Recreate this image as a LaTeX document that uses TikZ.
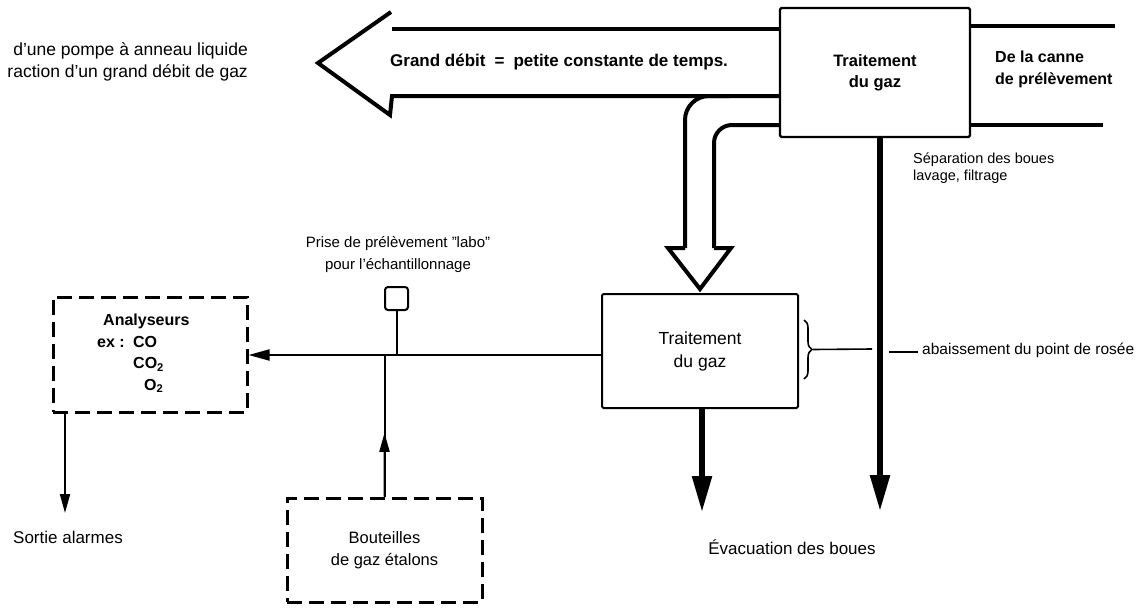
\documentclass[tikz,border=0pt]{standalone}
\usepackage{fontspec}
\setmainfont{Liberation Sans}
\usetikzlibrary{arrows.meta,decorations.pathreplacing,calc}
\newcommand{\fsz}[2]{\fontsize{#1}{#2}\selectfont}
\begin{document}
\begin{tikzpicture}[x=1pt,y=-1pt,
  box/.style={draw,line width=2.4pt,rounded corners=1.5pt,inner sep=0pt,align=center},
  dbox/.style={draw,line width=3pt,dash pattern=on 15pt off 7pt,inner sep=0pt},
  pipe/.style={line width=4pt},
  heavy/.style={line width=5.5pt,-{Triangle[width=19pt,length=36pt]}},
  fine/.style={line width=2pt},
  finearrow/.style={line width=2pt,-{Triangle[width=10pt,length=19pt]}},
  lbl/.style={inner sep=0pt}
]
\fill[white] (0,0) rectangle (1140,613);
\useasboundingbox (0,0) rectangle (1140,613);

% boxes
\node[box,minimum width=190pt,minimum height=129pt,font=\fsz{16.5}{21}\bfseries] (tb) at (875,72.5) {Traitement\\du gaz};
\node[box,line width=2pt,minimum width=196pt,minimum height=114pt,font=\fsz{17.5}{23}] (bb) at (700,351) {Traitement\\du gaz};
\node[dbox,minimum width=194pt,minimum height=115pt] (an) at (150,354.5) {};
\node[dbox,minimum width=195pt,minimum height=104pt,align=center,font=\fsz{16.5}{22}] (bo) at (384.5,550) {Bouteilles\\de gaz étalons};
\node[draw,line width=2pt,rounded corners=3pt,minimum width=23pt,minimum height=23pt,inner sep=0pt] (sq) at (396.5,298.5) {};

% analyser text
\node[lbl,anchor=north west,align=left,font=\fsz{16}{21.5}\bfseries] (ant) at (97,314)
  {\hspace*{6pt}Analyseurs\\\makebox[36pt][l]{ex :}CO\\\hspace*{36pt}CO\textsubscript{2}\\\hspace*{47pt}O\textsubscript{2}};

% big left arrow (Grand debit)
\coordinate (u1) at (392,29);
\coordinate (l1) at (392,96);
\draw[pipe] (tb.west |- u1) -- (u1);
\draw[pipe,line join=miter] (391,12) -- (318,63) -- (390,115) -- (l1) -- (tb.west |- l1);
\node[lbl,anchor=west,font=\fsz{17}{21}\bfseries] (gd) at (390,62) {Grand débit\hspace{9pt}=\hspace{9pt}petite constante de temps.};
\node[lbl,anchor=east,align=right,font=\fsz{17.5}{22}] (pompe) at (248,62) {d’une pompe à anneau liquide\\raction d’un grand débit de gaz};

% right inlet lines
\coordinate (r1) at (1115,26);
\coordinate (r2) at (1103,125);
\draw[pipe] (tb.east |- r1) -- (r1);
\draw[pipe] (tb.east |- r2) -- (r2);
\node[lbl,anchor=west,align=left,font=\fsz{16}{22}\bfseries] (canne) at (995,69) {De la canne\\de prélèvement};

% bent pipe with open arrow head
\coordinate (p1) at (685,248);
\coordinate (p2) at (714,248);
\draw[pipe,rounded corners=24pt] (p1) -- (685,96) -- (730,96);
\draw[pipe,rounded corners=18pt] (p2) -- (714,125) -- (tb.west |- 0,125);
\draw[pipe,line join=miter] (p1) -- (668,248) -- (bb.north |- 0,289) -- (731,248) -- (p2);

% heavy down arrows
\coordinate (e1) at (880,511);
\draw[heavy] (e1 |- tb.south) -- (e1);
\node[lbl,anchor=west,align=left,font=\fsz{14.5}{17}] (sep) at (913,168) {Séparation des boues\\lavage, filtrage};
\coordinate (e2) at (702,512);
\draw[heavy] (e2 |- bb.south) -- (e2);
\node[lbl,font=\fsz{17}{21}] (evac) at (792,547) {Évacuation des boues};

% brace and dew point label
\draw[line width=1.6pt,decorate,decoration={brace,amplitude=8pt}] (804,320) -- coordinate[xshift=9pt] (bt) (804,379);
\coordinate (bl) at (872,349);
\draw[line width=1.6pt] (bt) -- (bl);
\node[lbl,anchor=west,font=\fsz{15.5}{19}] (ab) at (922,350) {abaissement du point de rosée};
\draw[line width=1.2pt] (889,352) -- ($(ab.west)+(-4,2)$);

% sampling line to analysers
\coordinate (jn) at (382,355);
\draw[line width=2pt,-{Triangle[width=11pt,length=21pt]}] (bb.west |- jn) -- (an.east |- jn);
\draw[fine] (sq.south) -- (sq.south |- jn);
\node[lbl,align=center,font=\fsz{15}{22}] (prise) at (398,255) {Prise de prélèvement "labo"\\pour l’échantillonnage};

% gas bottles up to line
\draw[fine] (bo.north) -- (bo.north |- jn);
\draw[finearrow] (bo.north) -- ($(bo.north)!0.45!(bo.north |- jn)$);

% alarm output
\coordinate (sa) at (65,513);
\draw[finearrow] (sa |- an.south) -- (sa);
\node[lbl,anchor=west,font=\fsz{17}{21}] (alarm) at (13,537) {Sortie alarmes};
\end{tikzpicture}
\end{document}
